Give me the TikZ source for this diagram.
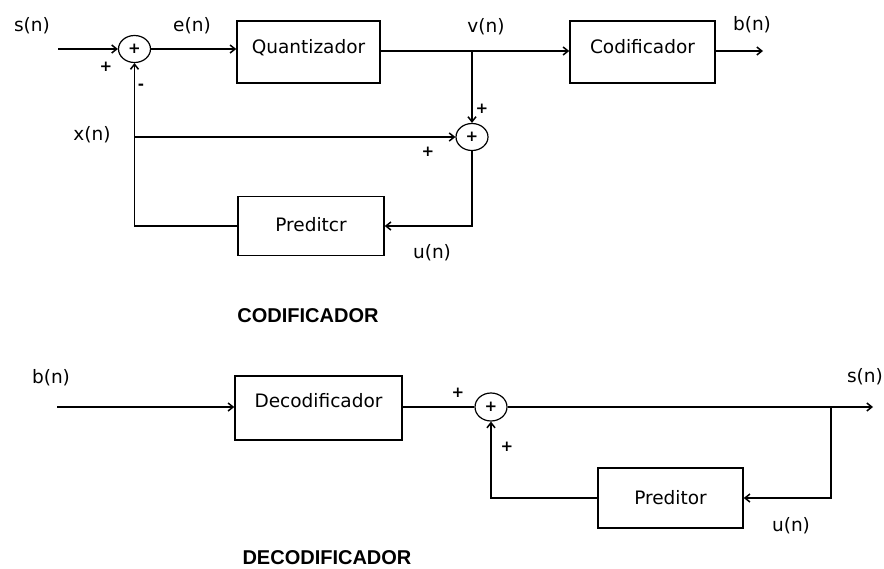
\documentclass[tikz,border=0pt]{standalone}
\usepackage{fontspec}
\setmainfont{DejaVu Sans}
\newfontfamily\titlefont{Liberation Sans}
\usetikzlibrary{arrows.meta,shapes.geometric,calc}
\begin{document}
\begin{tikzpicture}[x=1pt,y=-1pt,
  line width=1.5pt,
  font=\fontsize{18.5}{22}\selectfont,
  blk/.style={draw, rectangle, inner sep=0pt, text height=14pt},
  sumnode/.style={draw, ellipse, line width=1.2pt, minimum width=32pt, minimum height=27pt, inner sep=0pt, font=\fontsize{15}{16}\selectfont\bfseries},
  lbl/.style={inner sep=0pt},
  sgn/.style={inner sep=0pt, font=\fontsize{15}{16}\selectfont\bfseries},
  ttl/.style={inner sep=0pt, font=\titlefont\fontsize{20}{24}\selectfont\bfseries},
  arr/.style={-{Straight Barb[length=5pt,width=8pt]}},
]
\useasboundingbox (0,0) rectangle (884,568);

% ---------------- CODIFICADOR ----------------
\node[blk, minimum width=143pt, minimum height=62pt, text depth=10.5pt] (quant) at (308.5,52) {Quantizador};
\node[blk, minimum width=145pt, minimum height=62pt, text depth=11.5pt] (codif) at (642.5,52) {Codificador};
\node[blk, minimum width=146pt, minimum height=59pt, text depth=3.5pt] (pred1) at (311,226) {Preditcr};
\node[sumnode] (sum1) at (134.5,49) {+};
\node[sumnode] (sum2) at (472,137) {+};

\coordinate (sin) at (58,49);
\coordinate (jv) at (472,51);
\coordinate (bout) at (763,51);
\coordinate (jx) at (134.5,137);

\draw[arr] (sin) -- (sum1.west);
\draw[arr] (sum1.east) -- (sum1.east -| quant.west);
\draw[arr] (quant.east |- jv) -- (jv -| codif.west);
\draw[arr] (codif.east |- jv) -- (bout);
\draw[arr] (jv) -- (sum2.north);
\draw[arr] (jx) -- (sum2.west);
\draw[arr] (sum2.south) |- (pred1.east);
\draw[arr] (pred1.west) -| (sum1.south);

\node[lbl] (ls) at (32,26) {s(n)};
\node[lbl] (le) at (192,26) {e(n)};
\node[lbl] (lv) at (486,27) {v(n)};
\node[lbl] (lb) at (752,25) {b(n)};
\node[lbl] (lx) at (92,135) {x(n)};
\node[lbl] (lu) at (432,253) {u(n)};
\node[sgn] (p1) at (106,67) {+};
\node[sgn] (m1) at (141,87) {-};
\node[sgn] (p2) at (482,109) {+};
\node[sgn] (p3) at (428,152) {+};
\node[ttl] (t1) at (308,316) {CODIFICADOR};

% ---------------- DECODIFICADOR ----------------
\node[blk, minimum width=167pt, minimum height=64pt, text depth=14.5pt] (decod) at (318.5,408) {Decodificador};
\node[blk, minimum width=145pt, minimum height=60pt, text depth=0.5pt] (pred2) at (670.5,498) {Preditor};
\node[sumnode, minimum height=28pt] (sum3) at (491,407) {+};

\coordinate (bin) at (57,407);
\coordinate (sout) at (873,407);
\coordinate (j3) at (831,407);

\draw[arr] (bin) -- (bin -| decod.west);
\draw (decod.east |- sum3) -- (sum3.west);
\draw[arr] (sum3.east) -- (sout);
\draw[arr] (j3) |- (pred2.east);
\draw[arr] (pred2.west) -| (sum3.south);

\node[lbl] (lb2) at (51,378) {b(n)};
\node[lbl] (ls2) at (865,377) {s(n)};
\node[lbl] (lu2) at (791,526) {u(n)};
\node[sgn] (p4) at (458,393) {+};
\node[sgn] (p5) at (507,447) {+};
\node[ttl] (t2) at (327,558) {DECODIFICADOR};
\end{tikzpicture}
\end{document}
